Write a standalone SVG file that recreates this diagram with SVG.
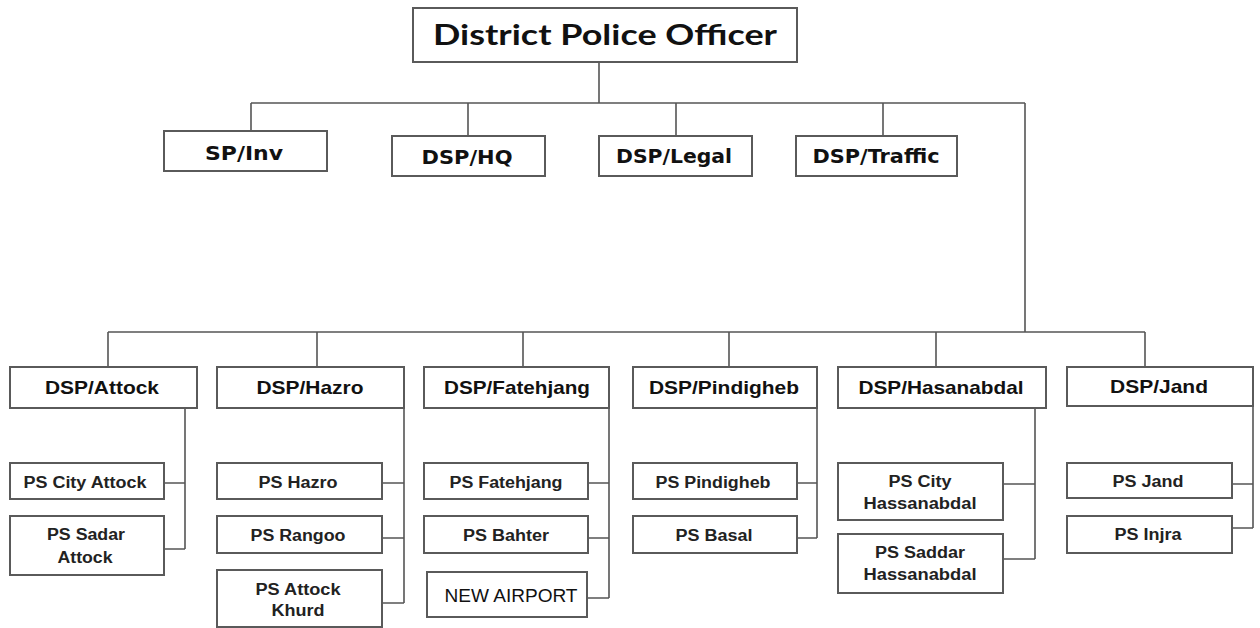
<svg xmlns="http://www.w3.org/2000/svg" width="1260" height="628" viewBox="0 0 1260 628">
<defs>
<style>
.box{fill:#fff;stroke:#5a5a5a;stroke-width:2}
.ln{fill:none;stroke:#555;stroke-width:1.6}
.t0{font-family:Lato,"Liberation Sans",sans-serif;font-weight:bold;font-size:28px;fill:#111;text-anchor:middle}
.t1{font-family:"DejaVu Sans","Liberation Sans",sans-serif;font-weight:bold;font-size:19px;fill:#111;text-anchor:middle}
.t2{font-family:"Liberation Sans",Arial,sans-serif;font-weight:bold;font-size:19px;fill:#111;text-anchor:middle}
.t3{font-family:"Liberation Sans",Arial,sans-serif;font-weight:bold;font-size:16px;fill:#222;text-anchor:middle}
.t4{font-family:"Liberation Sans",Arial,sans-serif;font-size:19px;fill:#111;text-anchor:middle}
</style>
</defs>
<rect width="1260" height="628" fill="#fff"/>
<g id="connectors">
<path class="ln" d="M599 62V103M251 103H1025M251 103V131M468 103V136M676 103V136M883 103V136M1025 103V332"/>
<path class="ln" d="M108 332H1145M108 332V367M317 332V367M523 332V367M729 332V367M936 332V367M1145 332V367"/>
<path class="ln" d="M185 408V549M164 483H185M164 549H185"/>
<path class="ln" d="M404 408V603M382 483H404M382 538H404M382 603H404"/>
<path class="ln" d="M609 408V598M588 483H609M588 538H609M587 598H609"/>
<path class="ln" d="M817 408V538M797 483H817M797 538H817"/>
<path class="ln" d="M1035 408V559M1003 484H1035M1003 559H1035"/>
<path class="ln" d="M1253 406V528M1232 484H1253M1232 528H1253"/>
</g>
<g id="dpo"><rect class="box" x="413" y="8" width="384" height="54"/><text class="t0" x="605" y="45" textLength="344" lengthAdjust="spacingAndGlyphs">District Police Officer</text></g>
<g id="sp-inv"><rect class="box" x="164" y="131" width="163" height="40"/><text class="t1" x="244" y="160" textLength="78" lengthAdjust="spacingAndGlyphs">SP/Inv</text></g>
<g id="dsp-hq"><rect class="box" x="392" y="136" width="153" height="40"/><text class="t1" x="467" y="164" textLength="91" lengthAdjust="spacingAndGlyphs">DSP/HQ</text></g>
<g id="dsp-legal"><rect class="box" x="599" y="136" width="153" height="40"/><text class="t1" x="674" y="163" textLength="116" lengthAdjust="spacingAndGlyphs">DSP/Legal</text></g>
<g id="dsp-traffic"><rect class="box" x="796" y="136" width="161" height="40"/><text class="t1" x="876" y="163" textLength="127" lengthAdjust="spacingAndGlyphs">DSP/Traffic</text></g>

<g id="dsp-attock"><rect class="box" x="10" y="367" width="187" height="41"/><text class="t2" x="102" y="394" textLength="114" lengthAdjust="spacingAndGlyphs">DSP/Attock</text></g>
<g id="dsp-hazro"><rect class="box" x="217" y="367" width="187" height="41"/><text class="t2" x="310" y="394" textLength="107" lengthAdjust="spacingAndGlyphs">DSP/Hazro</text></g>
<g id="dsp-fatehjang"><rect class="box" x="424" y="367" width="185" height="41"/><text class="t2" x="517" y="394" textLength="146" lengthAdjust="spacingAndGlyphs">DSP/Fatehjang</text></g>
<g id="dsp-pindigheb"><rect class="box" x="633" y="367" width="184" height="41"/><text class="t2" x="724" y="394" textLength="150" lengthAdjust="spacingAndGlyphs">DSP/Pindigheb</text></g>
<g id="dsp-hasanabdal"><rect class="box" x="838" y="367" width="208" height="41"/><text class="t2" x="941" y="394" textLength="165" lengthAdjust="spacingAndGlyphs">DSP/Hasanabdal</text></g>
<g id="dsp-jand"><rect class="box" x="1067" y="367" width="186" height="39"/><text class="t2" x="1159" y="393" textLength="98" lengthAdjust="spacingAndGlyphs">DSP/Jand</text></g>

<g id="ps-city-attock"><rect class="box" x="10" y="463" width="154" height="36"/><text class="t3" x="85" y="488" textLength="123" lengthAdjust="spacingAndGlyphs">PS City Attock</text></g>
<g id="ps-sadar-attock"><rect class="box" x="10" y="516" width="154" height="59"/><text class="t3" x="86" y="540" textLength="78" lengthAdjust="spacingAndGlyphs">PS Sadar</text><text class="t3" x="85" y="563" textLength="55" lengthAdjust="spacingAndGlyphs">Attock</text></g>

<g id="ps-hazro"><rect class="box" x="217" y="463" width="165" height="36"/><text class="t3" x="298" y="488" textLength="79" lengthAdjust="spacingAndGlyphs">PS Hazro</text></g>
<g id="ps-rangoo"><rect class="box" x="217" y="516" width="165" height="37"/><text class="t3" x="298" y="541" textLength="95" lengthAdjust="spacingAndGlyphs">PS Rangoo</text></g>
<g id="ps-attock-khurd"><rect class="box" x="217" y="570" width="165" height="57"/><text class="t3" x="298" y="595" textLength="85" lengthAdjust="spacingAndGlyphs">PS Attock</text><text class="t3" x="298" y="616" textLength="53" lengthAdjust="spacingAndGlyphs">Khurd</text></g>

<g id="ps-fatehjang"><rect class="box" x="424" y="463" width="164" height="36"/><text class="t3" x="506" y="488" textLength="113" lengthAdjust="spacingAndGlyphs">PS Fatehjang</text></g>
<g id="ps-bahter"><rect class="box" x="424" y="516" width="164" height="37"/><text class="t3" x="506" y="541" textLength="86" lengthAdjust="spacingAndGlyphs">PS Bahter</text></g>
<g id="new-airport"><rect class="box" x="427" y="572" width="160" height="45"/><text class="t4" x="511" y="602" textLength="133" lengthAdjust="spacingAndGlyphs">NEW AIRPORT</text></g>

<g id="ps-pindigheb"><rect class="box" x="633" y="463" width="164" height="36"/><text class="t3" x="713" y="488" textLength="115" lengthAdjust="spacingAndGlyphs">PS Pindigheb</text></g>
<g id="ps-basal"><rect class="box" x="633" y="516" width="164" height="37"/><text class="t3" x="714" y="541" textLength="77" lengthAdjust="spacingAndGlyphs">PS Basal</text></g>

<g id="ps-city-hassanabdal"><rect class="box" x="838" y="463" width="165" height="57"/><text class="t3" x="920" y="487" textLength="63" lengthAdjust="spacingAndGlyphs">PS City</text><text class="t3" x="920" y="509" textLength="113" lengthAdjust="spacingAndGlyphs">Hassanabdal</text></g>
<g id="ps-saddar-hassanabdal"><rect class="box" x="838" y="534" width="165" height="59"/><text class="t3" x="920" y="558" textLength="90" lengthAdjust="spacingAndGlyphs">PS Saddar</text><text class="t3" x="920" y="580" textLength="113" lengthAdjust="spacingAndGlyphs">Hassanabdal</text></g>

<g id="ps-jand"><rect class="box" x="1067" y="463" width="165" height="35"/><text class="t3" x="1148" y="487" textLength="71" lengthAdjust="spacingAndGlyphs">PS Jand</text></g>
<g id="ps-injra"><rect class="box" x="1067" y="516" width="165" height="37"/><text class="t3" x="1148" y="540" textLength="67" lengthAdjust="spacingAndGlyphs">PS Injra</text></g>
</svg>
